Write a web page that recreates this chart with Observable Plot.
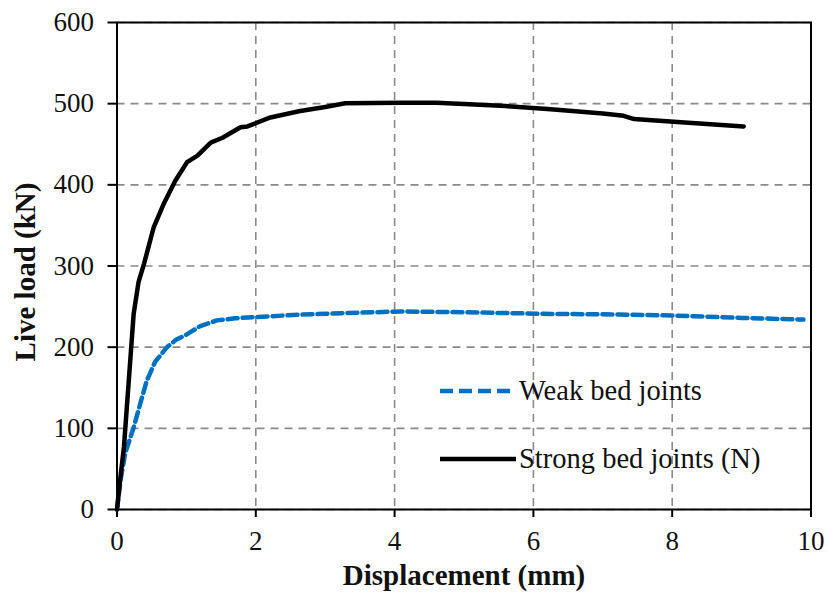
<!DOCTYPE html>
<html>
<head>
<meta charset="utf-8">
<script src="https://cdn.jsdelivr.net/npm/d3@7"></script>
<script src="https://cdn.jsdelivr.net/npm/@observablehq/plot@0.6"></script>
<style>
  html, body { margin: 0; padding: 0; background: #fff; }
  #wrap { position: relative; width: 829px; height: 596px; font-family: "Liberation Serif", "Times New Roman", serif; }
  #legend { position: absolute; left: 440px; top: 372px; font-size: 28.5px; color: #111; }
  .row { display: flex; align-items: center; height: 38px; }
  .row + .row { margin-top: 30px; }
  .row svg { margin-right: 3px; }
</style>
</head>
<body>
<div id="wrap"></div>
<script>
const strongX = [0, 0.05, 0.1, 0.17, 0.24, 0.31, 0.39, 0.53, 0.67, 0.84, 1.01, 1.16, 1.35, 1.52, 1.78, 1.88, 2.21, 2.64, 3.0, 3.29, 4.08, 4.6, 5.0, 5.6, 6.25, 7.0, 7.3, 7.45, 7.97, 8.5, 9.03];
const strongY = [0, 40, 77, 159, 241, 280, 303, 348, 376, 405, 428, 436, 452, 458, 471, 472, 483, 491, 496, 500.5, 501, 501, 499.5, 497, 493, 488, 485, 481, 478, 475, 472];
const weakX = [0, 0.05, 0.12, 0.24, 0.34, 0.43, 0.55, 0.72, 0.85, 1.01, 1.2, 1.44, 1.7, 1.97, 2.64, 3.3, 4.08, 5.0, 6.25, 7.0, 8.02, 9.0, 9.89];
const weakY = [0, 36, 70, 101, 132, 159, 182, 200, 209, 216, 226, 233, 235.5, 237, 240, 242, 244, 243, 241, 240.5, 239, 236, 234];
const xTicks = [0, 2, 4, 6, 8, 10];
const yTicks = [0, 100, 200, 300, 400, 500, 600];
const seriesNames = ["Weak bed joints", "Strong bed joints (N)"];
const xTitle = "Displacement (mm)";
const yTitle = "Live load (kN)";

const strong = strongX.map((x, i) => ({x, y: strongY[i]}));
const weak = weakX.map((x, i) => ({x, y: weakY[i]}));
const FONT = '"Liberation Serif", "Times New Roman", serif';

const chart = Plot.plot({
  width: 829,
  height: 596,
  marginLeft: 116.5,
  marginRight: 18.5,
  marginTop: 22,
  marginBottom: 87,
  style: {fontFamily: FONT, background: "#fff", color: "#111"},
  x: {domain: [0, 10]},
  y: {domain: [0, 600]},
  marks: [
    Plot.gridX(xTicks, {stroke: "#8a8a8a", strokeOpacity: 1, strokeWidth: 1.6, strokeDasharray: "8,6"}),
    Plot.gridY(yTicks, {stroke: "#8a8a8a", strokeOpacity: 1, strokeWidth: 1.6, strokeDasharray: "8,6"}),
    Plot.frame({stroke: "#000", strokeWidth: 2}),
    Plot.axisX({ticks: xTicks, tickSize: 8, tickPadding: 13, fontSize: 27, fontFamily: FONT, label: null, stroke: "#000", strokeWidth: 2}),
    Plot.axisY({ticks: yTicks, tickSize: 9, tickPadding: 14, fontSize: 27, fontFamily: FONT, label: null, stroke: "#000", strokeWidth: 2}),
    Plot.line(weak, {x: "x", y: "y", stroke: "#0070c0", strokeWidth: 4.5, strokeDasharray: "10,5"}),
    Plot.line(strong, {x: "x", y: "y", stroke: "#000", strokeWidth: 4.5}),
    Plot.text([xTitle], {frameAnchor: "bottom", dy: 75, fontSize: 29, fontFamily: FONT, fontWeight: "bold", fill: "#111"}),
    Plot.text([yTitle], {frameAnchor: "left", textAnchor: "middle", dx: -91, dy: 6, rotate: -90, fontSize: 29, fontFamily: FONT, fontWeight: "bold", fill: "#111"})
  ]
});
document.getElementById("wrap").appendChild(chart);

const legend = document.createElement("div");
legend.id = "legend";
legend.innerHTML = `
  <div class="row"><svg width="76" height="10"><line x1="0" y1="5" x2="76" y2="5" stroke="#0070c0" stroke-width="4.5" stroke-dasharray="13,6"/></svg><span>${seriesNames[0]}</span></div>
  <div class="row"><svg width="76" height="10"><line x1="0" y1="5" x2="76" y2="5" stroke="#000" stroke-width="4.5"/></svg><span>${seriesNames[1]}</span></div>`;
document.getElementById("wrap").appendChild(legend);
</script>
</body>
</html>
